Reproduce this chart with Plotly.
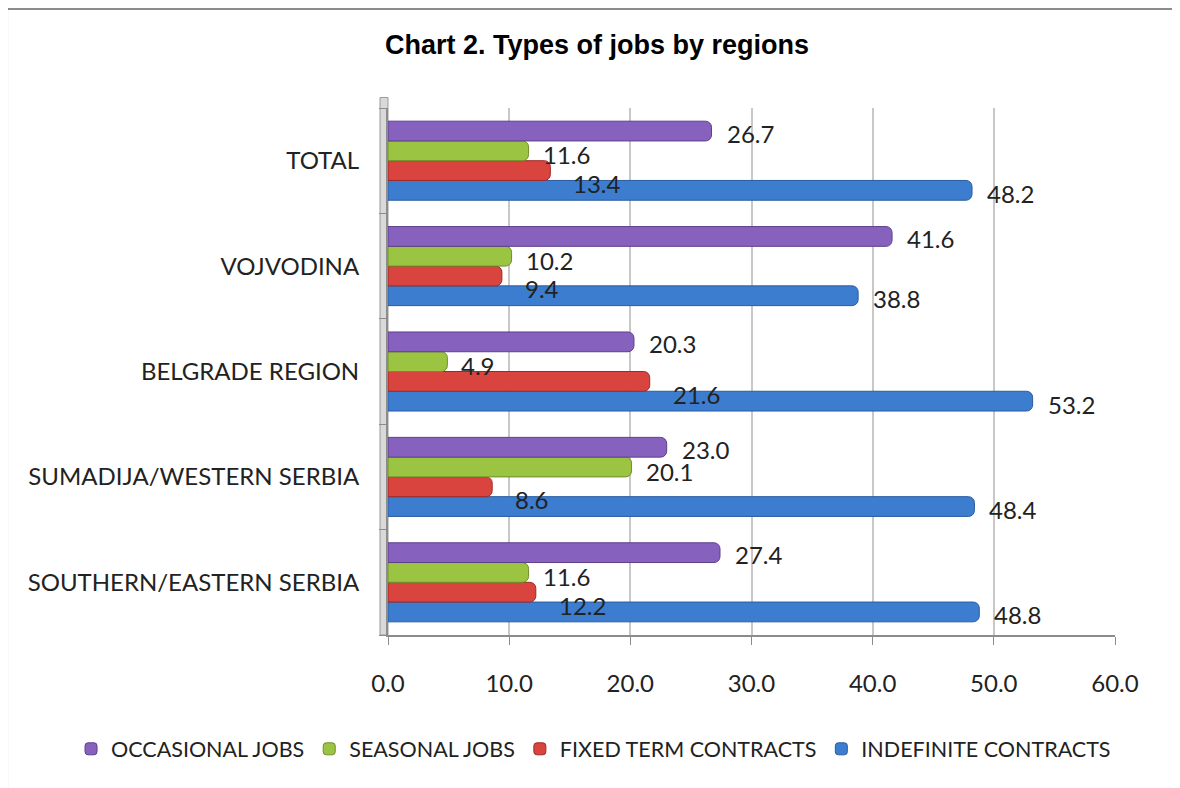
import plotly.graph_objects as go

regions = ['TOTAL', 'VOJVODINA', 'BELGRADE REGION', 'SUMADIJA/WESTERN SERBIA', 'SOUTHERN/EASTERN SERBIA']
indefinite = [48.2, 38.8, 53.2, 48.4, 48.8]
fixed_term = [13.4, 9.4, 21.6, 8.6, 12.2]
seasonal = [11.6, 10.2, 4.9, 20.1, 11.6]
occasional = [26.7, 41.6, 20.3, 23.0, 27.4]

# plotly draws categories bottom-up, so feed them reversed
order = regions[::-1]

series = [
    # name, values, fill, outline, label xshift, label yshift
    ('INDEFINITE CONTRACTS', indefinite, '#3C7DD0', '#2A5C9E', 13, -3),
    ('FIXED TERM CONTRACTS', fixed_term, '#D9443F', '#9E2A27', 21, -13),
    ('SEASONAL JOBS', seasonal, '#9BC443', '#6E8F2A', 12, -4),
    ('OCCASIONAL JOBS', occasional, '#8761BE', '#5E3F8A', 13, -2),
]

BARGAP = 0.25
bar_w = (1 - BARGAP) / len(series)

fig = go.Figure()
annotations = []
for i, (name, vals, fill, line, xs, ys) in enumerate(series):
    fig.add_trace(go.Bar(
        y=regions, x=vals, name=name, orientation='h',
        marker=dict(color=fill, line=dict(color=line, width=1), cornerradius=6),
    ))
    offset = -(1 - BARGAP) / 2 + bar_w * (i + 0.5)
    for reg, v in zip(regions, vals):
        annotations.append(dict(
            x=v, y=order.index(reg) + offset, xref='x', yref='y',
            text=f'{v:.1f}', showarrow=False, xanchor='left', yanchor='middle',
            xshift=xs, yshift=ys, font=dict(family='Lato', size=24, color='#222222'),
        ))

# outer chart border (only top and left edges are visible in the frame)
shapes = [
    dict(type='line', xref='paper', yref='paper', x0=-0.524, x1=1.2, y0=1.188, y1=1.188,
         line=dict(color='#8C8C8C', width=2)),
    dict(type='line', xref='paper', yref='paper', x0=-0.524, x1=-0.524, y0=-0.35, y1=1.188,
         line=dict(color='#8C8C8C', width=2)),
    # side wall of the 3D box
    dict(type='rect', xref='paper', yref='paper', x0=-0.011, x1=0.0, y0=0, y1=1.02,
         fillcolor='#D9D9D9', line=dict(color='#9A9A9A', width=1), layer='below'),
]

fig.update_layout(
    width=1172, height=780,
    margin=dict(l=380, r=65, t=100, b=153),
    paper_bgcolor='white', plot_bgcolor='white',
    barmode='group', bargap=BARGAP, bargroupgap=0,
    title=dict(text='<b>Chart 2. Types of jobs by regions</b>',
               font=dict(family='Liberation Sans', size=27, color='black'),
               xref='container', x=0.5026, xanchor='center',
               yref='container', y=0.9526, yanchor='middle'),
    xaxis=dict(range=[0, 60], dtick=10, tickformat='.1f',
               showgrid=True, gridcolor='#C8C8C8', gridwidth=2,
               showline=True, linecolor='#8C8C8C', linewidth=2,
               ticks='outside', ticklen=8, tickcolor='#8C8C8C',
               ticklabelstandoff=18, zeroline=False,
               tickfont=dict(family='Lato', size=24, color='#222222')),
    yaxis=dict(categoryorder='array', categoryarray=order,
               showline=True, linecolor='#8C8C8C', linewidth=2,
               ticks='outside', tickson='boundaries', ticklen=7, tickcolor='#8C8C8C',
               ticklabelstandoff=22, showgrid=False,
               tickfont=dict(family='Lato', size=24, color='#222222')),
    legend=dict(orientation='h', traceorder='reversed',
                x=-0.436, xanchor='left', y=-0.216, yanchor='middle',
                font=dict(family='Lato', size=21.5, color='#222222'),
                itemwidth=30),
    annotations=annotations,
    shapes=shapes,
)

fig.write_html("out.html")
